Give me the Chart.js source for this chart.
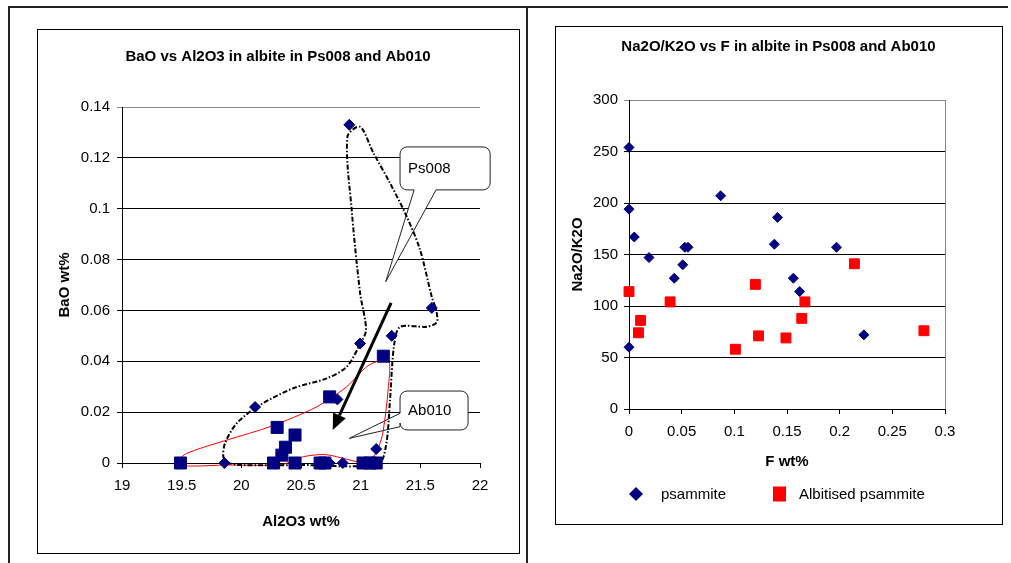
<!DOCTYPE html>
<html>
<head>
<meta charset="utf-8">
<script src="https://cdn.jsdelivr.net/npm/chart.js@4.4.1/dist/chart.umd.min.js"></script>
<style>
  html, body { margin: 0; padding: 0; background: #fff; }
  body { width: 1011px; height: 563px; position: relative; overflow: hidden; }
  .line { position: absolute; background: #222; }
  .box { position: absolute; border: 1px solid #000; box-sizing: border-box; pointer-events: none; }
  canvas { position: absolute; }
</style>
</head>
<body>
<div class="line" style="left:8px;top:6px;width:1000px;height:2px;"></div>
<div class="line" style="left:8px;top:6px;width:2px;height:557px;"></div>
<div class="line" style="left:526px;top:6px;width:2px;height:557px;"></div>

<canvas id="left" width="482" height="524" style="left:37px;top:29px;"></canvas>
<div class="box" style="left:37px;top:29px;width:483px;height:525px;"></div>

<canvas id="right" width="447" height="498" style="left:555px;top:26px;"></canvas>
<div class="box" style="left:555px;top:26px;width:448px;height:499px;"></div>

<script>
// ---------- Left chart data: BaO vs Al2O3 ----------
const ps008Al2O3 = [20.905, 21.596, 21.26, 20.995, 20.115, 20.805, 21.13, 19.858, 20.74, 20.85];
const ps008BaO   = [0.133, 0.061, 0.050, 0.047, 0.022, 0.025, 0.0055, 0, 0, 0];
const ab010Al2O3 = [21.19, 20.74, 20.30, 20.45, 20.37, 20.34, 20.27, 20.45, 20.66, 20.70, 21.02, 21.08, 21.13, 19.49];
const ab010BaO   = [0.042, 0.026, 0.014, 0.011, 0.0062, 0.0031, 0, 0, 0, 0, 0, 0, 0, 0];
// hand-drawn envelopes (data units)
const ps008EnvAl = [19.878, 19.989, 20.492, 21.146, 21.213, 21.246, 21.28, 21.33, 21.554, 21.638, 21.632, 21.596, 21.498, 21.386, 21.246, 21.107, 20.995, 20.889, 20.925, 20.995, 21.045, 20.995, 20.884, 20.716, 20.436, 20.157, 19.961, 19.863, 19.849, 19.878];
const ps008EnvBa = [0, -0.0008, -0.0008, -0.0004, 0.0071, 0.0248, 0.0464, 0.0535, 0.0536, 0.0554, 0.0602, 0.0653, 0.0838, 0.0969, 0.1101, 0.1219, 0.1322, 0.1283, 0.0995, 0.0669, 0.0523, 0.0468, 0.0379, 0.0333, 0.0294, 0.0228, 0.0156, 0.0077, 0.0025, 0];
const ab010EnvAl = [19.459, 19.542, 19.878, 20.241, 20.632, 20.883, 21.051, 21.163, 21.238, 21.23, 21.19, 21.163, 21.106, 20.995, 20.855, 20.702, 20.52, 20.408, 20.324, 19.878, 19.598, 19.469, 19.459];
const ab010EnvBa = [0.0005, 0.0038, 0.009, 0.0143, 0.0221, 0.030, 0.0379, 0.0403, 0.0403, 0.0287, 0.013, 0.0079, 0.0025, 0.0005, 0.0018, 0.0033, 0.0025, 0.0004, -0.0008, -0.0008, -0.0012, -0.0008, 0.0005];
const leftXTicks = [19, 19.5, 20, 20.5, 21, 21.5, 22];
const leftYTicks = [0, 0.02, 0.04, 0.06, 0.08, 0.1, 0.12, 0.14];

// ---------- Right chart data: Na2O/K2O vs F ----------
const psammiteF     = [0, 0, 0.005, 0.019, 0.043, 0.051, 0.053, 0.056, 0.087, 0.138, 0.141, 0.156, 0.162, 0.197, 0.223, 0];
const psammiteRatio = [254, 194, 167, 147, 127, 140, 157, 157, 207, 160, 186, 127, 114, 157, 72, 60];
const albitisedF     = [0, 0.039, 0.009, 0.011, 0.101, 0.120, 0.123, 0.149, 0.164, 0.167, 0.214, 0.280];
const albitisedRatio = [114, 104, 74, 86, 58, 121, 71, 69, 88, 104, 141, 76];
const rightXTicks = [0, 0.05, 0.1, 0.15, 0.2, 0.25, 0.3];
const rightYTicks = [0, 50, 100, 150, 200, 250, 300];

const NAVY = '#000080', RED = '#ff0000';
const FONT = '"Liberation Sans", Arial, sans-serif';
const pts = (xs, ys) => xs.map((x, i) => ({x, y: ys[i]}));
const fmt = v => String(parseFloat(Number(v).toFixed(4)));

Chart.defaults.font.family = FONT;
Chart.defaults.color = '#000';

// callouts / arrow in data units
const callouts = {
  ps008: {text: 'Ps008', x1: 21.33, x2: 22.085, y1: 0.1243, y2: 0.1074, side: 'bottom', b1: 21.448, b2: 21.632, tx: 21.21, ty: 0.0713},
  ab010: {text: 'Ab010', x1: 21.33, x2: 21.90, y1: 0.0283, y2: 0.0130, side: 'left', b1: 0.01954, b2: 0.01427, tx: 20.905, ty: 0.0097}
};
const arrow = {x1: 21.255, y1: 0.063, x2: 20.766, y2: 0.013};

function drawCallout(ctx, xs, ys, c) {
  const L = xs.getPixelForValue(c.x1), R = xs.getPixelForValue(c.x2);
  const T = ys.getPixelForValue(c.y1), B = ys.getPixelForValue(c.y2);
  const tx = xs.getPixelForValue(c.tx), ty = ys.getPixelForValue(c.ty);
  const r = 7;
  ctx.save();
  ctx.beginPath();
  ctx.moveTo(L + r, T);
  ctx.lineTo(R - r, T); ctx.arcTo(R, T, R, T + r, r);
  ctx.lineTo(R, B - r); ctx.arcTo(R, B, R - r, B, r);
  if (c.side === 'bottom') {
    const b1 = xs.getPixelForValue(c.b1), b2 = xs.getPixelForValue(c.b2);
    ctx.lineTo(b2, B); ctx.lineTo(tx, ty); ctx.lineTo(b1, B);
  }
  ctx.lineTo(L + r, B); ctx.arcTo(L, B, L, B - r, r);
  if (c.side === 'left') {
    const b1 = ys.getPixelForValue(c.b1), b2 = ys.getPixelForValue(c.b2);
    ctx.lineTo(L, b2); ctx.lineTo(tx, ty); ctx.lineTo(L, b1);
  }
  ctx.lineTo(L, T + r); ctx.arcTo(L, T, L + r, T, r);
  ctx.closePath();
  ctx.fillStyle = '#fff'; ctx.fill();
  ctx.strokeStyle = '#222'; ctx.lineWidth = 1; ctx.stroke();
  ctx.fillStyle = '#000';
  ctx.font = '15px ' + FONT;
  ctx.textBaseline = 'middle'; ctx.textAlign = 'left';
  ctx.fillText(c.text, L + 8, (T + B) / 2);
  ctx.restore();
}

const leftDecor = {
  id: 'leftDecor',
  beforeDatasetsDraw(chart) {
    const {ctx, scales: {x, y}} = chart;
    drawCallout(ctx, x, y, callouts.ps008);
    drawCallout(ctx, x, y, callouts.ab010);
  },
  afterDatasetsDraw(chart) {
    const {ctx, scales: {x, y}} = chart;
    const x1 = x.getPixelForValue(arrow.x1), y1 = y.getPixelForValue(arrow.y1);
    const x2 = x.getPixelForValue(arrow.x2), y2 = y.getPixelForValue(arrow.y2);
    const ang = Math.atan2(y2 - y1, x2 - x1);
    const hl = 16, hw = 7;
    const bx = x2 - hl * Math.cos(ang), by = y2 - hl * Math.sin(ang);
    ctx.save();
    ctx.strokeStyle = '#000'; ctx.lineWidth = 3;
    ctx.beginPath(); ctx.moveTo(x1, y1); ctx.lineTo(bx, by); ctx.stroke();
    ctx.beginPath();
    ctx.moveTo(x2, y2);
    ctx.lineTo(bx + hw * Math.sin(ang), by - hw * Math.cos(ang));
    ctx.lineTo(bx - hw * Math.sin(ang), by + hw * Math.cos(ang));
    ctx.closePath(); ctx.fillStyle = '#000'; ctx.fill();
    ctx.restore();
  }
};

new Chart(document.getElementById('left'), {
  type: 'scatter',
  data: {
    datasets: [
      {label: 'Ps008', data: pts(ps008Al2O3, ps008BaO), pointStyle: 'rectRot', pointRadius: 5.5, backgroundColor: NAVY, borderColor: NAVY, borderWidth: 1, clip: false, order: 1},
      {label: 'Ab010', data: pts(ab010Al2O3, ab010BaO), pointStyle: 'rect', pointRadius: 8.5, backgroundColor: NAVY, borderColor: NAVY, borderWidth: 1, clip: false, order: 2},
      {label: 'Ps008 field', data: pts(ps008EnvAl, ps008EnvBa), showLine: true, pointRadius: 0, borderColor: '#000', borderWidth: 2, borderDash: [5, 2, 1.5, 2], tension: 0.3, fill: false, clip: false, order: 3},
      {label: 'Ab010 field', data: pts(ab010EnvAl, ab010EnvBa), showLine: true, pointRadius: 0, borderColor: RED, borderWidth: 1, tension: 0.3, fill: false, clip: false, order: 4}
    ]
  },
  options: {
    responsive: false, animation: false, devicePixelRatio: 1,
    layout: {padding: {left: 39, right: 39, top: 0, bottom: 0}},
    plugins: {
      legend: {display: false}, tooltip: {enabled: false},
      title: {display: true, text: 'BaO vs Al2O3 in albite in Ps008 and Ab010', color: '#000',
        font: {size: 15, weight: 'bold'}, padding: {top: 19, bottom: 41}}
    },
    scales: {
      x: {
        type: 'linear', min: 19, max: 22,
        afterBuildTicks: s => { s.ticks = leftXTicks.map(v => ({value: v})); },
        afterFit: s => { s.height = 90; },
        ticks: {callback: fmt, font: {size: 15}, padding: 9, color: '#000', maxRotation: 0},
        grid: {drawOnChartArea: false, drawTicks: true, tickLength: 5, color: '#000'},
        border: {display: true, color: '#000', width: 1},
        title: {display: true, text: 'Al2O3 wt%', font: {size: 15, weight: 'bold'}, color: '#000', padding: {top: 0, bottom: 22}}
      },
      y: {
        type: 'linear', min: 0, max: 0.14,
        afterBuildTicks: s => { s.ticks = leftYTicks.map(v => ({value: v})); },
        afterFit: s => { s.width = 46; },
        ticks: {callback: fmt, font: {size: 15}, padding: 7, color: '#000'},
        grid: {drawOnChartArea: true, drawTicks: true, tickLength: 5,
          color: c => (c.tick && c.tick.value === 0.14) ? '#888' : '#000'},
        border: {display: true, color: '#000', width: 1},
        title: {display: true, text: 'BaO wt%', font: {size: 15, weight: 'bold'}, color: '#000', padding: {top: -20, bottom: 0}}
      }
    }
  },
  plugins: [leftDecor]
});

const rightDecor = {
  id: 'rightDecor',
  afterDraw(chart) {
    const {ctx, chartArea: a} = chart;
    ctx.save();
    ctx.strokeStyle = '#888'; ctx.lineWidth = 1;
    ctx.beginPath(); ctx.moveTo(a.right + 0.5, a.top); ctx.lineTo(a.right + 0.5, a.bottom); ctx.stroke();
    // legend
    const ly = 468;
    ctx.fillStyle = NAVY;
    ctx.beginPath(); ctx.moveTo(81, ly - 7); ctx.lineTo(88, ly); ctx.lineTo(81, ly + 7); ctx.lineTo(74, ly); ctx.closePath(); ctx.fill();
    ctx.fillStyle = RED;
    ctx.fillRect(218, ly - 7.5, 13, 15);
    ctx.fillStyle = '#000';
    ctx.font = '15px ' + FONT; ctx.textBaseline = 'middle'; ctx.textAlign = 'left';
    ctx.fillText(chart.data.datasets[0].label, 106, ly + 1);
    ctx.fillText(chart.data.datasets[1].label, 244, ly + 1);
    ctx.restore();
  }
};

new Chart(document.getElementById('right'), {
  type: 'scatter',
  data: {
    datasets: [
      {label: 'psammite', data: pts(psammiteF, psammiteRatio), pointStyle: 'rectRot', pointRadius: 5, backgroundColor: NAVY, borderColor: NAVY, borderWidth: 1, clip: false},
      {label: 'Albitised psammite', data: pts(albitisedF, albitisedRatio), pointStyle: 'rect', pointRadius: 7, backgroundColor: RED, borderColor: RED, borderWidth: 1, clip: false}
    ]
  },
  options: {
    responsive: false, animation: false, devicePixelRatio: 1,
    layout: {padding: {left: 0, right: 0, top: 0, bottom: 45}},
    plugins: {
      legend: {display: false}, tooltip: {enabled: false},
      title: {display: true, text: 'Na2O/K2O vs F in albite in Ps008 and Ab010', color: '#000',
        font: {size: 15, weight: 'bold'}, padding: {top: 12, bottom: 44}}
    },
    scales: {
      x: {
        type: 'linear', min: 0, max: 0.3,
        afterBuildTicks: s => { s.ticks = rightXTicks.map(v => ({value: v})); },
        afterFit: s => { s.height = 70; },
        ticks: {callback: fmt, font: {size: 15}, padding: 9, color: '#000', maxRotation: 0},
        grid: {drawOnChartArea: false, drawTicks: true, tickLength: 5, color: '#000'},
        border: {display: true, color: '#000', width: 1},
        title: {display: true, text: 'F wt%', font: {size: 15, weight: 'bold'}, color: '#000', padding: {top: 0, bottom: 8}}
      },
      y: {
        type: 'linear', min: 0, max: 300,
        afterBuildTicks: s => { s.ticks = rightYTicks.map(v => ({value: v})); },
        afterFit: s => { s.width = 74; },
        ticks: {callback: fmt, font: {size: 15}, padding: 6, color: '#000'},
        grid: {drawOnChartArea: true, drawTicks: true, tickLength: 5,
          color: c => (c.tick && c.tick.value === 300) ? '#888' : '#000'},
        border: {display: true, color: '#000', width: 1},
        title: {display: true, text: 'Na2O/K2O', font: {size: 15, weight: 'bold'}, color: '#000', padding: {top: 14, bottom: 0}}
      },
      yPad: {
        type: 'linear', position: 'right', display: true,
        afterFit: s => { s.width = 57; },
        ticks: {display: false},
        grid: {display: false, drawTicks: false},
        border: {display: false},
        title: {display: false}
      }
    }
  },
  plugins: [rightDecor]
});
</script>
</body>
</html>
